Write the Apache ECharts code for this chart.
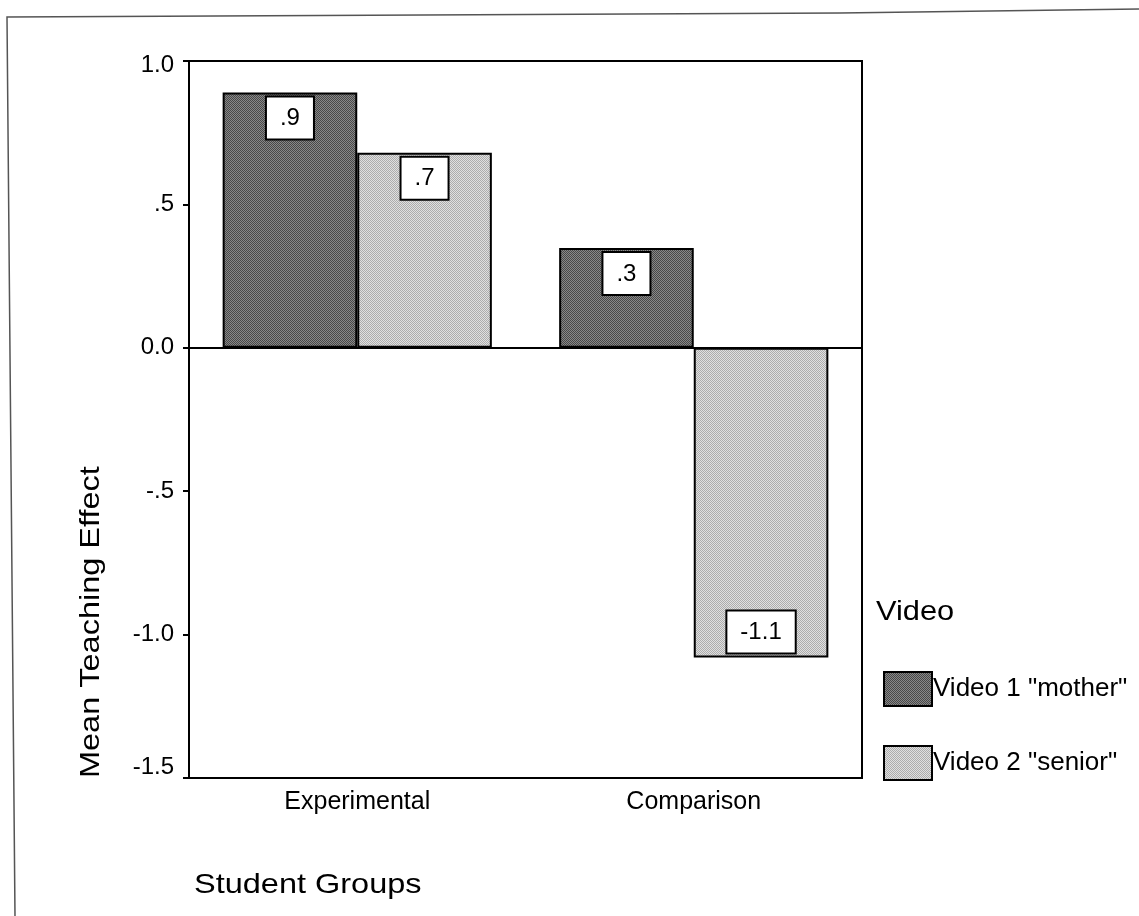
<!DOCTYPE html>
<html>
<head>
<meta charset="utf-8">
<title>Mean Teaching Effect by Student Group</title>
<script src="https://cdn.jsdelivr.net/npm/echarts@6/dist/echarts.min.js"></script>
<style>
  html, body { margin: 0; padding: 0; background: #ffffff; }
  #chart { width: 1139px; height: 916px; }
</style>
</head>
<body>
<div id="chart"></div>
<script>
// Student groups on the category axis
const categories = ['Experimental', 'Comparison'];
// Mean teaching effect per video, one value per group
const seriesNames = ['Video 1 "mother"', 'Video 2 "senior"'];
const motherValues = [0.89, 0.348];
const seniorValues = [0.68, -1.08];
// Value axis range and step
const yMin = -1.5;
const yMax = 1.0;
const yStep = 0.5;

const FONT = '"Liberation Sans", Arial, Helvetica, sans-serif';

// SPSS-style number text: ".5", "-.5", "0.0", "1.0", "-1.1"
function fmt(v) {
  if (Math.abs(v) < 1e-9) return '0.0';
  return v.toFixed(1).replace(/^(-?)0\./, '$1.');
}

// Tick text; the end labels are nudged inward a little
function tickText(v) {
  const s = fmt(v);
  if (Math.abs(v - yMin) < 1e-9) return '{lo|' + s + '}';
  if (Math.abs(v - yMax) < 1e-9) return '{hi|' + s + '}';
  return s;
}

// Small halftone-like fill made of alternating grey pixels
function halftone(c1, c2) {
  const cv = document.createElement('canvas');
  cv.width = 2; cv.height = 2;
  const ctx = cv.getContext('2d');
  ctx.fillStyle = c1; ctx.fillRect(0, 0, 2, 2);
  ctx.fillStyle = c2; ctx.fillRect(0, 0, 1, 1); ctx.fillRect(1, 1, 1, 1);
  return { image: cv, repeat: 'repeat' };
}
const darkFill = halftone('#888888', '#484848');
const lightFill = halftone('#e0e0e0', '#acacac');

function barLabel() {
  return {
    show: true,
    formatter: p => fmt(p.value),
    fontFamily: FONT,
    fontSize: 24,
    color: '#000',
    backgroundColor: '#ffffff',
    borderColor: '#000',
    borderWidth: 2,
    padding: [9, 13, 8, 13],
    distance: 5
  };
}

function toData(values) {
  return values.map(v => ({
    value: v,
    label: { position: v >= 0 ? 'insideTop' : 'insideBottom' }
  }));
}

const chart = echarts.init(document.getElementById('chart'), null, { renderer: 'canvas' });

chart.setOption({
  animation: false,
  backgroundColor: '#ffffff',
  grid: {
    left: 189, top: 61, right: 277, bottom: 138,
    show: true, borderColor: '#000', borderWidth: 2,
    backgroundColor: 'transparent'
  },
  xAxis: [
    {
      type: 'category',
      data: categories,
      position: 'bottom',
      axisLine: { onZero: false, lineStyle: { color: '#000', width: 2 } },
      axisTick: { alignWithLabel: true, length: 6, lineStyle: { color: '#000', width: 2 } },
      axisLabel: { color: '#000', fontFamily: FONT, fontSize: 25, margin: 12 },
      splitLine: { show: false }
    },
    {
      // zero baseline across the plot
      type: 'category',
      data: categories,
      position: 'bottom',
      axisLine: { show: true, onZero: true, lineStyle: { color: '#000', width: 2 } },
      axisTick: { show: false },
      axisLabel: { show: false },
      splitLine: { show: false }
    }
  ],
  yAxis: {
    type: 'value',
    min: yMin, max: yMax, interval: yStep,
    axisLine: { show: true, lineStyle: { color: '#000', width: 2 } },
    axisTick: { show: true, length: 6, lineStyle: { color: '#000', width: 2 } },
    axisLabel: {
      color: '#000', fontFamily: FONT, fontSize: 24, margin: 15,
      formatter: tickText,
      rich: {
        lo: { fontFamily: FONT, fontSize: 24, color: '#000', padding: [0, 0, 22, 0] },
        hi: { fontFamily: FONT, fontSize: 24, color: '#000', padding: [8, 0, 0, 0] }
      }
    },
    splitLine: { show: false }
  },
  legend: {
    orient: 'vertical',
    left: 883, top: 671,
    padding: 0,
    icon: 'rect',
    itemWidth: 48, itemHeight: 34,
    itemGap: 38,
    itemStyle: { borderColor: '#000', borderWidth: 2 },
    textStyle: { color: '#000', fontFamily: FONT, fontSize: 26, padding: [0, 0, 0, -4] },
    data: seriesNames,
    selectedMode: false
  },
  series: [
    {
      name: seriesNames[0],
      type: 'bar',
      xAxisIndex: 0,
      data: toData(motherValues),
      barGap: '0%',
      barCategoryGap: '20%',
      itemStyle: { color: darkFill, borderColor: '#000', borderWidth: 2 },
      label: barLabel()
    },
    {
      name: seriesNames[1],
      type: 'bar',
      xAxisIndex: 0,
      data: toData(seniorValues),
      barGap: '0%',
      barCategoryGap: '20%',
      itemStyle: { color: lightFill, borderColor: '#000', borderWidth: 2 },
      label: barLabel()
    }
  ],
  graphic: [
    {
      // outer figure frame
      type: 'polyline',
      shape: { points: [[15, 916], [7, 17], [840, 13], [1139, 9]] },
      style: { stroke: '#555', lineWidth: 1.5, fill: null },
      silent: true
    },
    {
      // value axis title, aligned to the bottom of the axis
      type: 'text',
      x: 91, y: 778,
      rotation: Math.PI / 2,
      scaleX: 1.16,
      style: {
        text: 'Mean Teaching Effect',
        fontFamily: FONT, fontSize: 28, fill: '#000',
        textAlign: 'left', textVerticalAlign: 'middle'
      }
    },
    {
      // category axis title, aligned to the left of the axis
      type: 'text',
      x: 194, y: 885,
      scaleX: 1.16,
      style: {
        text: 'Student Groups',
        fontFamily: FONT, fontSize: 28, fill: '#000',
        textAlign: 'left', textVerticalAlign: 'middle'
      }
    },
    {
      type: 'text',
      x: 876, y: 612,
      scaleX: 1.1,
      style: {
        text: 'Video',
        fontFamily: FONT, fontSize: 28, fill: '#000',
        textAlign: 'left', textVerticalAlign: 'middle'
      }
    }
  ]
});
</script>
</body>
</html>
